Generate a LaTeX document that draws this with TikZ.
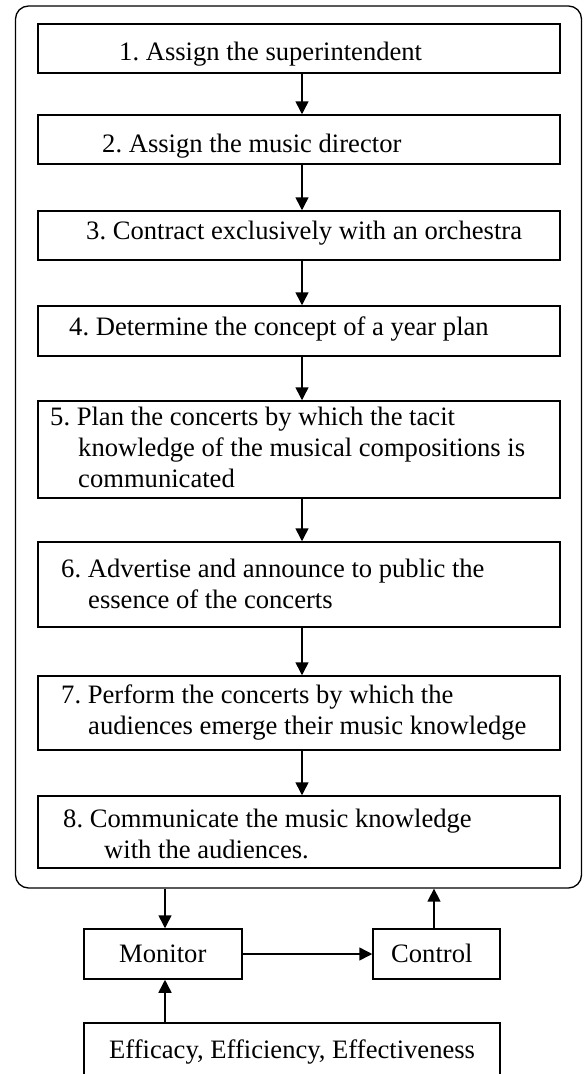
\documentclass[tikz,border=0pt]{standalone}
\usepackage{fontspec}
\setmainfont{Liberation Serif}[Ligatures=NoCommon]
\usetikzlibrary{arrows.meta}
\tikzset{
  box/.style={draw, line width=1.5pt, inner sep=0pt, minimum width=522pt},
  sbox/.style={draw, line width=1.5pt, inner sep=0pt},
  lbl/.style={anchor=base west, inner sep=0pt, font=\fontsize{26.6}{31}\selectfont\frenchspacing},
  arr/.style={line width=1.5pt, -{Triangle[length=13pt,width=13pt]}}
}
\begin{document}
\begin{tikzpicture}[x=1pt,y=-1pt]
\clip (0,0) rectangle (584,1074);
\useasboundingbox (0,0) rectangle (584,1074);
\fill[white] (0,0) rectangle (584,1074);
% outer rounded frame
\node[sbox, line width=1.3pt, rounded corners=13pt, minimum width=566pt, minimum height=882pt] (outer) at (298.5,447) {};
% step boxes
\node[box, minimum height=49pt] (b1) at (299,48.5) {};
\node[box, minimum height=49pt] (b2) at (299,139.5) {};
\node[box, minimum height=49pt] (b3) at (299,235.5) {};
\node[box, minimum height=50pt] (b4) at (299,331) {};
\node[box, minimum height=97pt] (b5) at (299,449.5) {};
\node[box, minimum height=85pt] (b6) at (299,584.5) {};
\node[box, minimum height=74pt] (b7) at (299,713) {};
\node[box, minimum height=72pt] (b8) at (299,832) {};
% texts
\node[lbl] (t1) at (119,60) {1. Assign the superintendent};
\node[lbl] (t2) at (102,152) {2. Assign the music director};
\node[lbl] (t3) at (86,239) {3. Contract exclusively with an orchestra};
\node[lbl] (t4) at (69,335) {4. Determine the concept of a year plan};
\node[lbl] (t5a) at (50,425) {5. Plan the concerts by which the tacit};
\node[lbl] (t5b) at (78,456) {knowledge of the musical compositions is};
\node[lbl] (t5c) at (78,487) {communicated};
\node[lbl] (t6a) at (61,577) {6. Advertise and announce to public the};
\node[lbl] (t6b) at (88,608) {essence of the concerts};
\node[lbl] (t7a) at (61,703) {7. Perform the concerts by which the};
\node[lbl] (t7b) at (88,734) {audiences emerge their music knowledge};
\node[lbl] (t8a) at (63,827) {8. Communicate the music knowledge};
\node[lbl] (t8b) at (104,858) {with the audiences.};
% vertical arrows between steps
\foreach \a/\b in {b1/b2,b2/b3,b3/b4,b4/b5,b5/b6,b6/b7,b7/b8}
  \draw[arr] ([xshift=3pt]\a.south) -- ([xshift=3pt]\b.north);
% lower part
\node[sbox, minimum width=158pt, minimum height=50pt] (mon) at (163,954) {};
\node[sbox, minimum width=127pt, minimum height=50pt] (ctl) at (436.5,954) {};
\node[sbox, minimum width=416pt, minimum height=80pt] (eff) at (292,1063) {};
\node[lbl] (tm) at (119,962) {Monitor};
\node[lbl] (tc) at (391,962) {Control};
\node[lbl] (te) at (109,1058) {Efficacy, Efficiency, Effectiveness};
\coordinate (ma) at ([xshift=2pt]mon.north);
\coordinate (mb) at ([xshift=2pt]mon.south);
\coordinate (ca) at ([xshift=-2.5pt]ctl.north);
\draw[arr] (outer.south -| ma) -- (ma);
\draw[arr] (ca) -- (outer.south -| ca);
\draw[arr] (mon.east) -- (ctl.west);
\draw[arr] (eff.north -| mb) -- (mb);
\end{tikzpicture}
\end{document}
